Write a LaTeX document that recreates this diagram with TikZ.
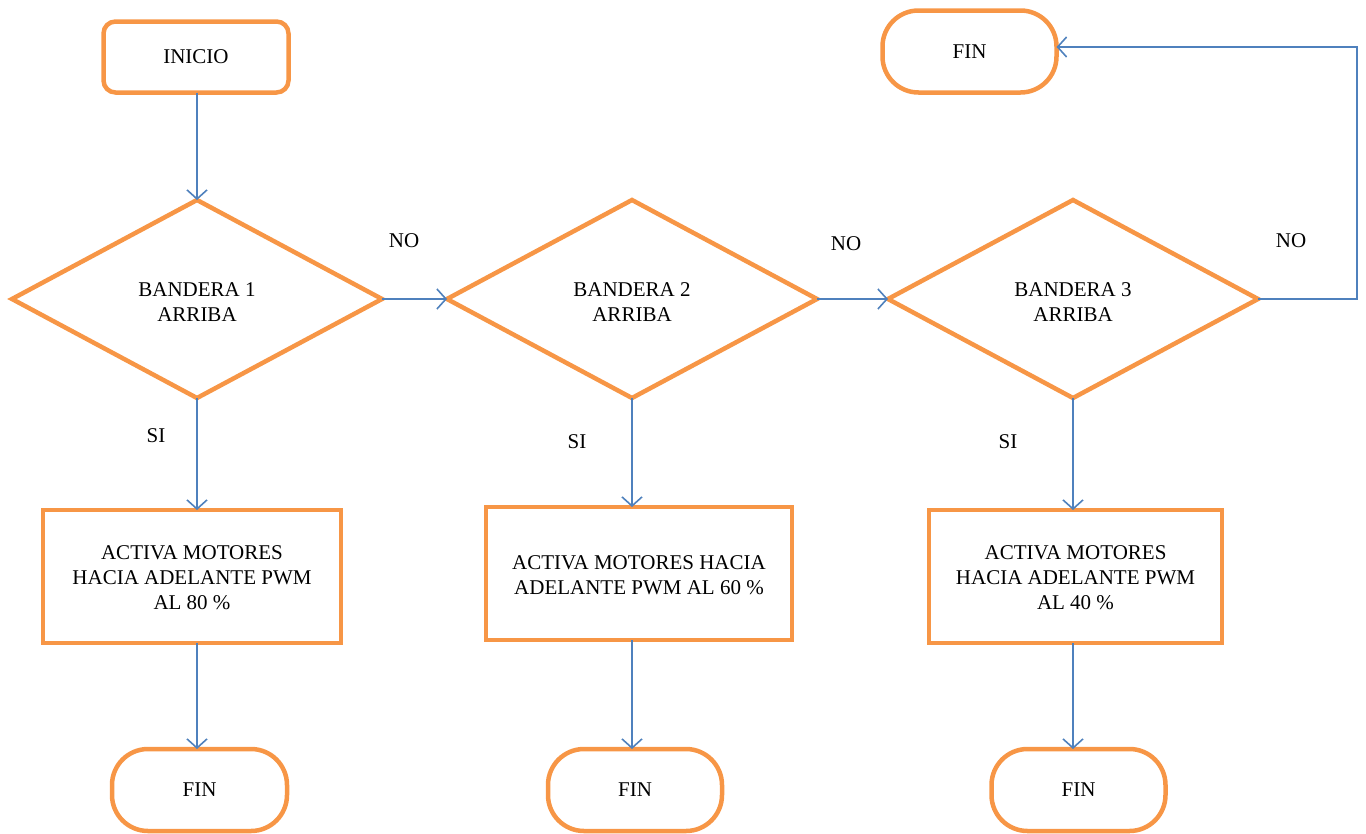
\documentclass[tikz,border=0pt]{standalone}
\usepackage{fontspec}
\setmainfont{Liberation Serif}
\usetikzlibrary{shapes.geometric,arrows.meta}
\definecolor{boxorange}{HTML}{F79646}
\definecolor{linkblue}{HTML}{4F81BD}
\begin{document}
\begin{tikzpicture}[x=1pt,y=-1pt,
  every node/.style={font=\fontsize{21}{25}\selectfont, align=center, inner sep=0pt, outer sep=0pt},
  startbox/.style={draw=boxorange, line width=4.5pt, rounded corners=12pt, minimum width=185pt, minimum height=71pt},
  endbox/.style={draw=boxorange, line width=4.5pt, rounded corners=36pt, minimum width=174pt, minimum height=82pt},
  decision/.style={draw=boxorange, line width=4.5pt, diamond, minimum width=370pt, minimum height=198pt},
  actionbox/.style={draw=boxorange, line width=4.5pt, minimum width=298pt, minimum height=133pt},
  link/.style={draw=linkblue, line width=1.6pt, -{Straight Barb[length=9pt,width=20pt,line width=1.6pt]}},
  tag/.style={font=\fontsize{21}{25}\selectfont}
]
\useasboundingbox (0,0) rectangle (1366,833);

% start
\node[startbox] (start) at (196,57) {INICIO};

% decisions (outline, then the question set a little below the middle)
\node[decision] (d1) at (197,299) {};
\node (q1) at (197,302) {BANDERA 1\\ARRIBA};
\node[decision] (d2) at (632,299) {};
\node (q2) at (632,302) {BANDERA 2\\ARRIBA};
\node[decision] (d3) at (1073,299) {};
\node (q3) at (1073,302) {BANDERA 3\\ARRIBA};

% actions
\node[actionbox] (a1) at (192,576.5) {};
\node (t1) at (192,578) {ACTIVA MOTORES\\HACIA ADELANTE PWM\\AL 80 \%};
\node[actionbox, minimum width=306pt] (a2) at (639,573.5) {};
\node (t2) at (639,575.5) {ACTIVA MOTORES HACIA\\ADELANTE PWM AL 60 \%};
\node[actionbox, minimum width=293pt] (a3) at (1075.5,576.5) {};
\node (t3) at (1075.5,578) {ACTIVA MOTORES\\HACIA ADELANTE PWM\\AL 40 \%};

% end points
\node[endbox] (f0) at (969.5,51.5) {FIN};
\node[endbox, minimum width=175pt] (f1) at (199.5,790) {FIN};
\node[endbox] (f2) at (635,790) {FIN};
\node[endbox] (f3) at (1078.5,790) {FIN};

% connectors
\draw[link] (start.south -| d1.north) -- (d1.north);
\draw[link] (d1.east) -- (d2.west);
\draw[link] (d2.east) -- (d3.west);
\coordinate (loop) at (1357,47);
\draw[link] (d3.east) -| (loop) -- (f0.east |- loop);

\draw[link] (d1.south) -- (d1.south |- a1.north);
\draw[link] (d2.south) -- (d2.south |- a2.north);
\draw[link] (d3.south) -- (d3.south |- a3.north);

\draw[link] (a1.south -| d1.south) -- (d1.south |- f1.north);
\draw[link] (a2.south -| d2.south) -- (d2.south |- f2.north);
\draw[link] (a3.south -| d3.south) -- (d3.south |- f3.north);

% branch labels
\node[tag] (no1) at (404,241) {NO};
\node[tag] (no2) at (846,244) {NO};
\node[tag] (no3) at (1291,241) {NO};
\node[tag] (si1) at (156,436) {SI};
\node[tag] (si2) at (577,442) {SI};
\node[tag] (si3) at (1008,442) {SI};
\end{tikzpicture}
\end{document}
